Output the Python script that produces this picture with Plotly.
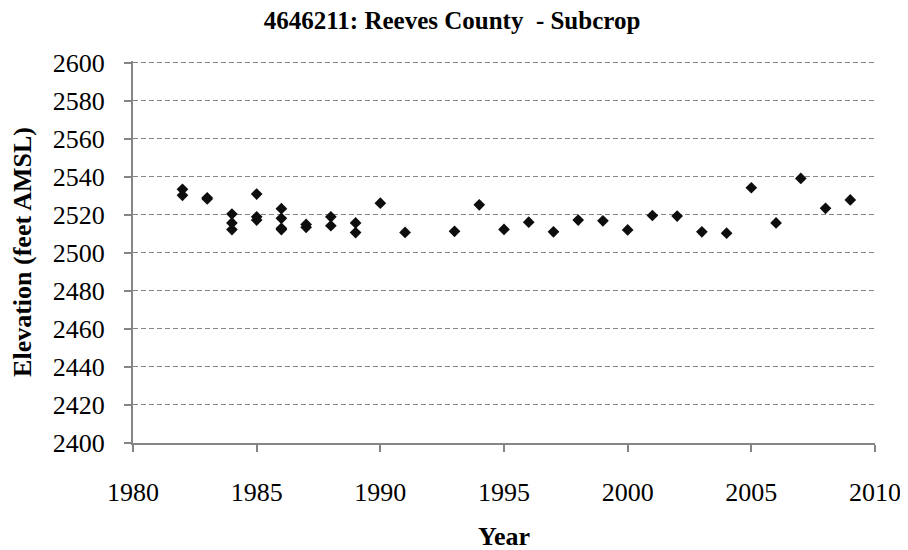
import plotly.graph_objects as go

years = [1982, 1982, 1983, 1983, 1984, 1984, 1984, 1985, 1985, 1985,
         1986, 1986, 1986, 1986, 1987, 1987, 1988, 1988, 1989, 1989,
         1990, 1991, 1993, 1994, 1995, 1996, 1997, 1998, 1999, 2000,
         2001, 2002, 2003, 2004, 2005, 2006, 2007, 2008, 2009]
elevation = [2533.5, 2530.3, 2529, 2528.4, 2520.5, 2515.8, 2512.3, 2531, 2519, 2517.3,
             2523.3, 2518.2, 2513, 2512.3, 2515, 2513.5, 2519, 2514.3, 2515.8, 2510.7,
             2526.2, 2510.8, 2511.4, 2525.3, 2512.4, 2516.2, 2511.1, 2517.3, 2516.9, 2512.1,
             2519.7, 2519.4, 2511.1, 2510.4, 2534.3, 2515.8, 2539.2, 2523.5, 2527.9]

title_text = "4646211: Reeves County  - Subcrop"
x_title = "Year"
y_title = "Elevation (feet AMSL)"

font_fam = "Liberation Serif, Times New Roman, serif"
grey = "#858585"

fig = go.Figure()
fig.add_trace(go.Scatter(
    x=years, y=elevation, mode="markers",
    marker=dict(symbol="diamond", size=9, color="#0d0d0d"),
    showlegend=False,
))

fig.update_layout(
    width=908, height=550,
    margin=dict(l=125, r=41, t=53, b=115),
    paper_bgcolor="white", plot_bgcolor="white",
    font=dict(family=font_fam, size=26, color="black"),
    title=dict(text="<b>" + title_text + "</b>", x=0.489, xanchor="center",
               y=1 - 12.5 / 550, yanchor="middle",
               font=dict(family=font_fam, size=25, color="black")),
)
fig.update_xaxes(
    range=[1980, 2010], dtick=5, tick0=1980,
    showline=True, linecolor=grey, linewidth=2,
    ticks="outside", ticklen=7, tickcolor=grey, tickwidth=2,
    ticklabelstandoff=18,
    showgrid=False, zeroline=False,
    title=dict(text="<b>" + x_title + "</b>", font=dict(family=font_fam, size=26), standoff=21),
    tickfont=dict(family=font_fam, size=26),
)
fig.update_yaxes(
    range=[2400, 2601], dtick=20, tick0=2400,
    showline=True, linecolor=grey, linewidth=2,
    ticks="outside", ticklen=7, tickcolor=grey, tickwidth=2,
    ticklabelstandoff=14,
    showgrid=True, gridcolor=grey, griddash="5px,3px", gridwidth=1.3,
    zeroline=False,
    title=dict(text="<b>" + y_title + "</b>", font=dict(family=font_fam, size=26), standoff=16),
    tickfont=dict(family=font_fam, size=26),
)

fig.write_html("out.html")
